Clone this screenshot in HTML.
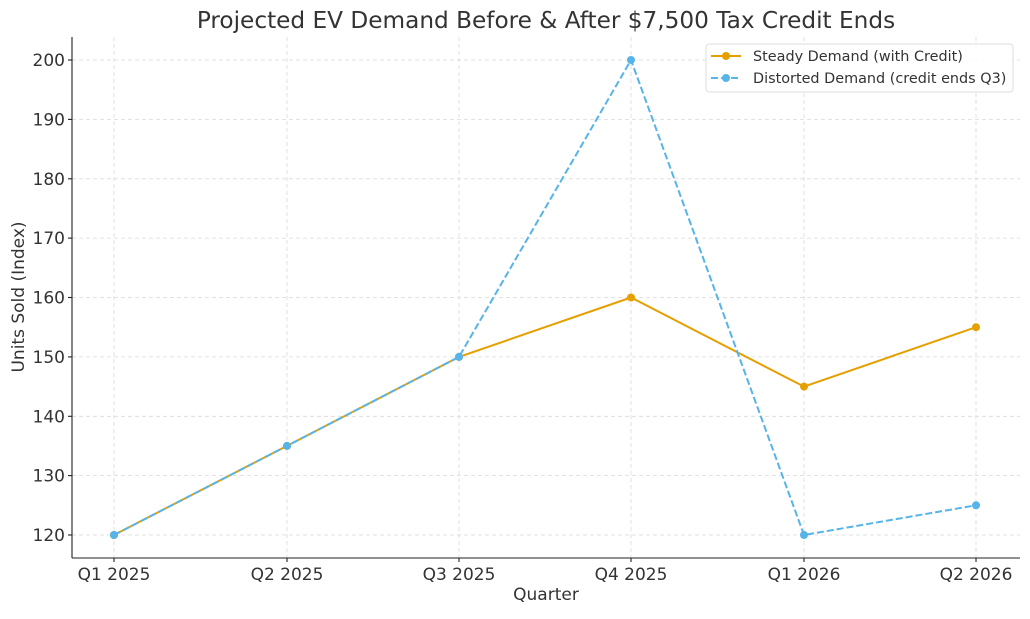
<!DOCTYPE html><html><head><style>body{margin:0;background:#fff}</style></head><body>
<svg width="1030" height="614" xmlns="http://www.w3.org/2000/svg" font-family="DejaVu Sans, Liberation Sans, sans-serif" fill="#333">
<rect width="1030" height="614" fill="#fff"/>
<g stroke="#d9d9d9" stroke-dasharray="4,3" stroke-width="0.8">
<line x1="114" y1="37" x2="114" y2="558"/><line x1="287" y1="37" x2="287" y2="558"/><line x1="459" y1="37" x2="459" y2="558"/><line x1="631" y1="37" x2="631" y2="558"/><line x1="804" y1="37" x2="804" y2="558"/><line x1="976" y1="37" x2="976" y2="558"/>
<line x1="72" y1="535" x2="1020" y2="535"/><line x1="72" y1="475.6" x2="1020" y2="475.6"/><line x1="72" y1="416.3" x2="1020" y2="416.3"/><line x1="72" y1="356.9" x2="1020" y2="356.9"/><line x1="72" y1="297.5" x2="1020" y2="297.5"/><line x1="72" y1="238.1" x2="1020" y2="238.1"/><line x1="72" y1="178.8" x2="1020" y2="178.8"/><line x1="72" y1="119.4" x2="1020" y2="119.4"/><line x1="72" y1="60" x2="1020" y2="60"/>
</g>
<g stroke="#222" stroke-width="1.1">
<line x1="72" y1="37" x2="72" y2="558"/><line x1="72" y1="558" x2="1020" y2="558"/>
<g>
<line x1="114" y1="558" x2="114" y2="562"/><line x1="287" y1="558" x2="287" y2="562"/><line x1="459" y1="558" x2="459" y2="562"/><line x1="631" y1="558" x2="631" y2="562"/><line x1="804" y1="558" x2="804" y2="562"/><line x1="976" y1="558" x2="976" y2="562"/>
<line x1="68" y1="535" x2="72" y2="535"/><line x1="68" y1="475.6" x2="72" y2="475.6"/><line x1="68" y1="416.3" x2="72" y2="416.3"/><line x1="68" y1="356.9" x2="72" y2="356.9"/><line x1="68" y1="297.5" x2="72" y2="297.5"/><line x1="68" y1="238.1" x2="72" y2="238.1"/><line x1="68" y1="178.8" x2="72" y2="178.8"/><line x1="68" y1="119.4" x2="72" y2="119.4"/><line x1="68" y1="60" x2="72" y2="60"/>
</g></g>
<g font-size="17" text-anchor="end">
<text x="65" y="541">120</text><text x="65" y="481.6">130</text><text x="65" y="422.3">140</text><text x="65" y="362.9">150</text><text x="65" y="303.5">160</text><text x="65" y="244.1">170</text><text x="65" y="184.8">180</text><text x="65" y="125.4">190</text><text x="65" y="66">200</text>
</g>
<g font-size="17" text-anchor="middle">
<text x="114" y="580">Q1 2025</text><text x="287" y="580">Q2 2025</text><text x="459" y="580">Q3 2025</text><text x="631" y="580">Q4 2025</text><text x="804" y="580">Q1 2026</text><text x="976" y="580">Q2 2026</text>
<text x="546" y="600">Quarter</text>
<text x="546" y="28" font-size="23.2">Projected EV Demand Before &amp; After $7,500 Tax Credit Ends</text>
<text transform="translate(24,297) rotate(-90)">Units Sold (Index)</text>
</g>
<polyline fill="none" stroke="#E69F00" stroke-width="2" points="114,535 287,445.9 459,356.9 631,297.5 804,386.6 976,327.2"/>
<g fill="#E69F00"><circle cx="287" cy="445.9" r="4"/><circle cx="459" cy="356.9" r="4"/><circle cx="631" cy="297.5" r="4"/><circle cx="804" cy="386.6" r="4"/><circle cx="976" cy="327.2" r="4"/><circle cx="114" cy="535" r="4"/></g>
<polyline fill="none" stroke="#56B4E9" stroke-width="2" stroke-dasharray="7,3" points="114,535 287,445.9 459,356.9 631,60 804,535 976,505.3"/>
<g fill="#56B4E9"><circle cx="114" cy="535" r="4"/><circle cx="287" cy="445.9" r="4"/><circle cx="459" cy="356.9" r="4"/><circle cx="631" cy="60" r="4"/><circle cx="804" cy="535" r="4"/><circle cx="976" cy="505.3" r="4"/></g>
<rect x="706" y="44" width="307" height="48" rx="3" fill="#fff" fill-opacity="0.85" stroke="#ddd"/>
<line x1="711" y1="56" x2="741" y2="56" stroke="#E69F00" stroke-width="2"/><circle cx="726" cy="56" r="4" fill="#E69F00"/>
<line x1="711" y1="78" x2="741" y2="78" stroke="#56B4E9" stroke-width="2" stroke-dasharray="7,3"/><circle cx="726" cy="78" r="4" fill="#56B4E9"/>
<g font-size="14.4"><text x="753" y="61">Steady Demand (with Credit)</text><text x="753" y="83">Distorted Demand (credit ends Q3)</text></g>
</svg>
</body></html>
